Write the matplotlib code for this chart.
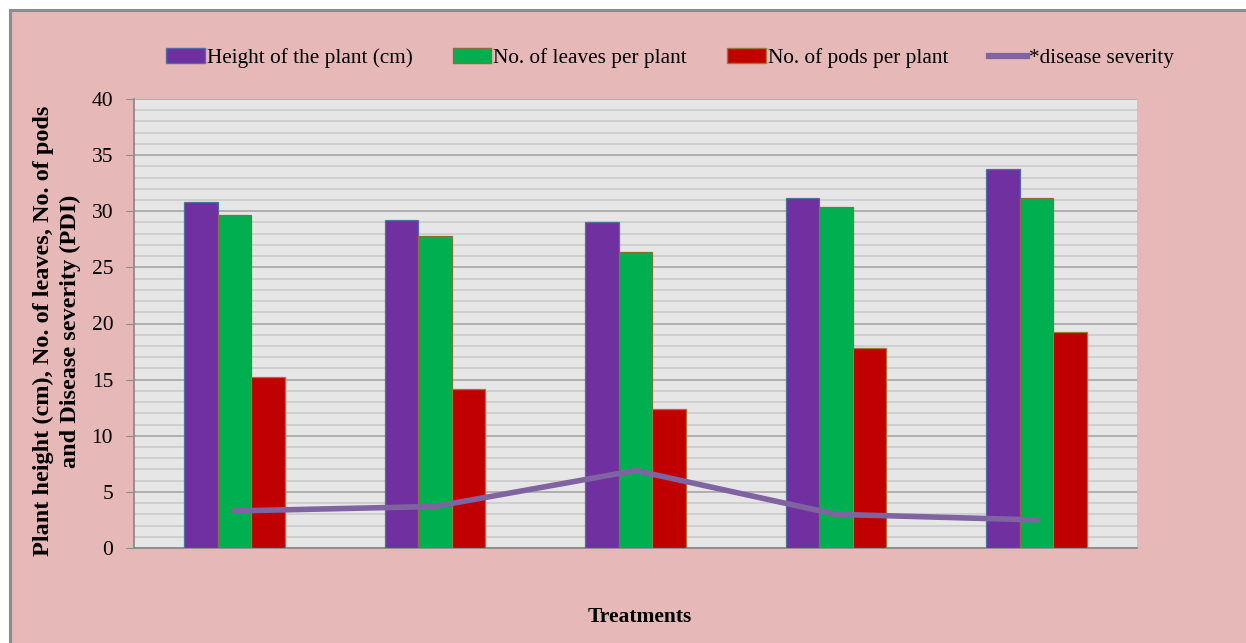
import numpy as np
import matplotlib.pyplot as plt
from matplotlib.patches import Rectangle
from matplotlib.lines import Line2D

# values, one per treatment
treatments = ["T1", "T2", "T3", "T4", "T5"]
plant_height = [30.8, 29.2, 29.0, 31.2, 33.8]
leaves_per_plant = [29.7, 27.8, 26.4, 30.4, 31.2]
pods_per_plant = [15.2, 14.2, 12.4, 17.8, 19.2]
disease_severity = [3.3, 3.7, 6.9, 3.0, 2.5]

series_names = ["Height of the plant (cm)", "No. of leaves per plant",
                "No. of pods per plant", "*disease severity"]

plt.rcParams["font.family"] = ["Liberation Serif", "DejaVu Serif"]

fig = plt.figure(figsize=(12.46, 6.43), dpi=100)
fig.patch.set_facecolor("white")

# pink chart area with grey frame (open on right / bottom)
fig.patches.append(Rectangle((10 / 1246, -0.1), 1.2, (633 / 643) + 0.1,
                             transform=fig.transFigure, facecolor="#E6B8B7",
                             edgecolor="#8C8C8C", linewidth=2.2, zorder=-10))

ax = fig.add_axes([134 / 1246, 95 / 643, 1003 / 1246, 449 / 643])
ax.set_facecolor("#E6E6E6")

x = np.arange(len(treatments))
w = 0.167

ax.bar(x - w, plant_height, w, color="#7030A0", edgecolor="#4F6FA8",
       linewidth=0.9, zorder=3)
ax.bar(x, leaves_per_plant, w, color="#00B050", edgecolor="#8A6E3A",
       linewidth=0.9, zorder=3)
ax.bar(x + w, pods_per_plant, w, color="#C00000", edgecolor="#9C7A3A",
       linewidth=0.9, zorder=3)
ax.plot(x, disease_severity, color="#8064A2", linewidth=4,
        solid_capstyle="round", solid_joinstyle="round", zorder=4)

ax.set_xlim(-0.5, len(treatments) - 0.5)
ax.set_ylim(0, 40)
ax.set_yticks(np.arange(0, 41, 5))
ax.set_yticks(np.arange(0, 41, 1), minor=True)
ax.grid(axis="y", which="major", color="#A0A0A0", linewidth=1.1, zorder=1)
ax.grid(axis="y", which="minor", color="#C8C8C8", linewidth=1.1, zorder=1)
ax.set_axisbelow(True)

ax.set_xticks([])
ax.tick_params(axis="y", which="major", length=6, color="#8C8C8C",
               labelsize=15.5, pad=9)
ax.tick_params(axis="y", which="minor", length=0)

for side in ["top", "right"]:
    ax.spines[side].set_visible(False)
for side in ["left", "bottom"]:
    ax.spines[side].set_color("#8C8C8C")
    ax.spines[side].set_linewidth(1.3)

fig.text(57 / 1246, 1 - 331 / 643,
         "Plant height (cm), No. of leaves, No. of pods\nand Disease severity (PDI)",
         rotation=90, ha="center", va="center", multialignment="center",
         fontsize=17.5, fontweight="bold", linespacing=1.35)
fig.text(640 / 1246, 1 - 617 / 643, "Treatments", ha="center", va="center",
         fontsize=15.5, fontweight="bold")

handles = [
    Rectangle((0, 0), 1, 1, facecolor="#7030A0", edgecolor="#4F6FA8"),
    Rectangle((0, 0), 1, 1, facecolor="#00B050", edgecolor="#8A6E3A"),
    Rectangle((0, 0), 1, 1, facecolor="#C00000", edgecolor="#9C7A3A"),
    Line2D([], [], color="#8064A2", linewidth=4.5),
]
fig.legend(handles, series_names, loc="center", ncol=4,
           bbox_to_anchor=(670 / 1246, 1 - 58 / 643), frameon=False,
           fontsize=15.3, handlelength=1.8, handleheight=0.65,
           handletextpad=0.1, columnspacing=1.9)

fig.savefig("out.png", dpi=100)
